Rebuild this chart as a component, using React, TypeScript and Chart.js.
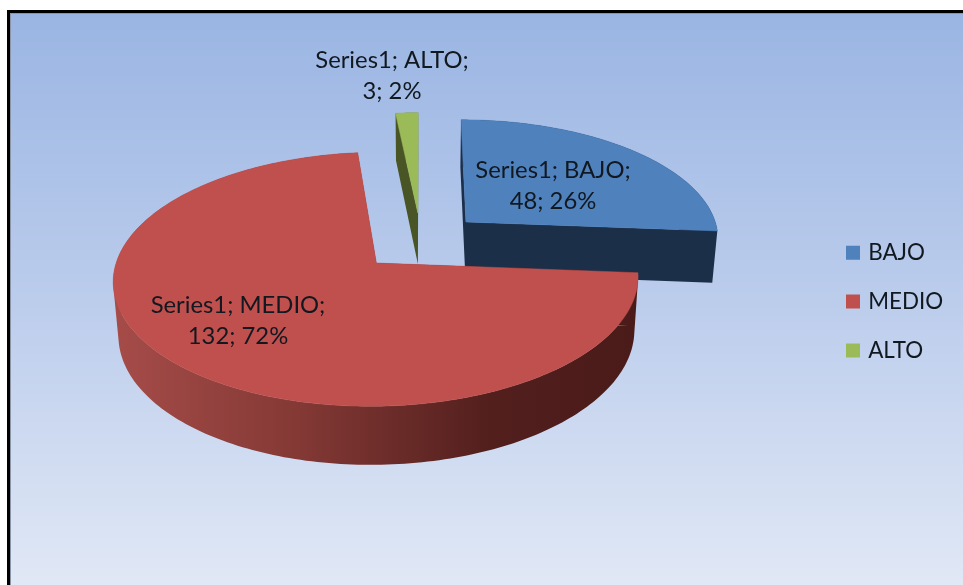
import { useEffect, useRef } from "react";
import { Chart, registerables } from "chart.js";

Chart.register(...registerables);

const seriesName = "Series1";
const categories = ["BAJO", "MEDIO", "ALTO"];
const values = [48, 132, 3];
const sliceColors = ["#4f81bd", "#c0504d", "#9bbb59"];
const wallColors = ["#1c2f49", "#4e1c1a", "#4a5526"];

// layout of the perspective view
const CX = 421, CY = 241.5, RX = 254.5, RY = 119.5, K = 0.125;
const BOTTOM_CY = 293.7, BOTTOM_FX = 0.983, BOTTOM_FY = 1.039;
const EXPLODE_PX = 64;
const FONT = "Lato, 'Open Sans', sans-serif";
const LABEL_SIZE = 23.8;
const LABEL_CENTERS = [[553, 186], [238, 321], [392, 76]];
const LABEL_LINE = 31.5;

type P = { x: number; y: number };

function project(u: number, v: number, bottom: boolean): P {
  const s = 1 / (1 - K * v);
  return bottom
    ? { x: CX + BOTTOM_FX * RX * u * s, y: BOTTOM_CY + BOTTOM_FY * RY * v * s }
    : { x: CX + RX * u * s, y: CY + RY * v * s };
}

function addPoly(ctx: CanvasRenderingContext2D, input: P[]) {
  // every polygon gets the same winding, so overlapping ones add up in one fill
  let area = 0;
  input.forEach((p, i) => {
    const q = input[(i + 1) % input.length];
    area += p.x * q.y - q.x * p.y;
  });
  const pts = area < 0 ? input.slice().reverse() : input;
  pts.forEach((p, i) => (i ? ctx.lineTo(p.x, p.y) : ctx.moveTo(p.x, p.y)));
  ctx.closePath();
}

function poly(ctx: CanvasRenderingContext2D, pts: P[], fill: any) {
  ctx.beginPath();
  addPoly(ctx, pts);
  ctx.fillStyle = fill;
  ctx.fill();
  ctx.strokeStyle = fill;
  ctx.lineWidth = 0.5;
  ctx.stroke();
}

const framePlugin = {
  id: "frame",
  beforeDraw(chart: any) {
    const { ctx, width, height } = chart;
    ctx.save();
    ctx.fillStyle = "#ffffff";
    ctx.fillRect(0, 0, width, height);
    const g = ctx.createLinearGradient(0, 12, 0, height + 10);
    g.addColorStop(0, "#9ab5e3");
    g.addColorStop(0.5, "#bccdec");
    g.addColorStop(1, "#e2e9f6");
    ctx.fillStyle = g;
    ctx.fillRect(10, 13, width - 10, height - 13);
    ctx.fillStyle = "#8b95a8";
    ctx.fillRect(9, 12, 2, height - 12);
    ctx.fillRect(9, 12, width - 9, 2);
    ctx.fillStyle = "#000000";
    ctx.fillRect(7, 10, 3, height - 10);
    ctx.fillRect(7, 10, width - 7, 3);
    ctx.restore();
  },
};

const legendPlacePlugin = {
  id: "legendPlace",
  afterLayout(chart: any) {
    const l = chart.legend;
    const w = l.width, h = l.height;
    l.left = 849 - l.options.labels.padding;
    l.right = l.left + w;
    l.top = 241.5 - l.options.labels.padding;
    l.bottom = l.top + h;
  },
};

const pie3dPlugin = {
  id: "pie3d",
  beforeDatasetDraw(chart: any, args: any) {
    const { ctx } = chart;
    const arcs: any[] = args.meta.data;
    const items = arcs.map((arc: any, i: number) => {
      const R = arc.outerRadius;
      const mid = (arc.startAngle + arc.endAngle) / 2;
      const e = arc.options.offset / R;
      return { arc, i, mid, u0: Math.cos(mid) * e, v0: Math.sin(mid) * e };
    });
    items.sort((a, b) => a.v0 - b.v0);
    ctx.save();
    for (const it of items) {
      const { arc, i, u0, v0 } = it;
      const steps = Math.max(4, Math.ceil((arc.endAngle - arc.startAngle) / 0.02));
      const unit: [number, number][] = [];
      for (let s = 0; s <= steps; s++) {
        const a = arc.startAngle + ((arc.endAngle - arc.startAngle) * s) / steps;
        unit.push([u0 + Math.cos(a), v0 + Math.sin(a)]);
      }
      const top = unit.map(([u, v]) => project(u, v, false));
      const bot = unit.map(([u, v]) => project(u, v, true));
      const cTop = project(u0, v0, false);
      const cBot = project(u0, v0, true);
      let wall: any = wallColors[i];
      if (i === 1) {
        const g = ctx.createLinearGradient(113, 0, 638, 0);
        g.addColorStop(0, "#a64c49");
        g.addColorStop(0.35, "#843935");
        g.addColorStop(0.72, "#521f1d");
        g.addColorStop(1, "#4a1b19");
        wall = g;
      }
      // radial walls and outer wall, all in one path so no seams show
      ctx.beginPath();
      addPoly(ctx, [cTop, top[0], bot[0], cBot]);
      addPoly(ctx, [cTop, top[steps], bot[steps], cBot]);
      for (let s = 0; s < steps; s++) {
        addPoly(ctx, [top[s], top[s + 1], bot[s + 1], bot[s]]);
      }
      ctx.fillStyle = wall;
      ctx.fill();
      // top face
      poly(ctx, [cTop, ...top], sliceColors[i]);
    }
    ctx.restore();
    return false;
  },
  afterDatasetsDraw(chart: any) {
    const { ctx } = chart;
    const ds = chart.data.datasets[0];
    const total = ds.data.reduce((a: number, b: number) => a + b, 0);
    ctx.save();
    ctx.font = `${LABEL_SIZE}px ${FONT}`;
    ctx.fillStyle = "#111820";
    ctx.textAlign = "center";
    ctx.textBaseline = "middle";
    ds.data.forEach((val: number, i: number) => {
      const [x, y] = LABEL_CENTERS[i];
      const pct = Math.round((val / total) * 100);
      ctx.fillText(`${ds.label}; ${chart.data.labels[i]};`, x, y - LABEL_LINE / 2);
      ctx.fillText(`${val}; ${pct}%`, x, y + LABEL_LINE / 2);
    });
    ctx.restore();
  },
};

export default function App() {
  const ref = useRef<HTMLCanvasElement>(null);
  useEffect(() => {
    const chart = new Chart(ref.current as HTMLCanvasElement, {
      type: "pie",
      data: {
        labels: categories,
        datasets: [
          {
            label: seriesName,
            data: values,
            backgroundColor: sliceColors,
            borderWidth: 0,
            offset: EXPLODE_PX,
          },
        ],
      },
      options: {
        responsive: false,
        animation: false,
        plugins: {
          tooltip: { enabled: false },
          legend: {
            position: "right",
            align: "start",
            labels: {
              boxWidth: 8,
              boxHeight: 8,
              padding: 26.5,
              color: "#111820",
              font: { family: FONT, size: 22.4 },
              generateLabels(c: any) {
                const items = (Chart as any).overrides.doughnut.plugins.legend.labels.generateLabels(c);
                return items.map((it: any) => ({ ...it, strokeStyle: it.fillStyle, lineWidth: 6, fontColor: "#111820" }));
              },
            },
          },
        },
      },
      plugins: [framePlugin, legendPlacePlugin, pie3dPlugin],
    } as any);
    return () => chart.destroy();
  }, []);
  return (
    <div style={{ position: "absolute", left: 0, top: 0, width: 963, height: 585, overflow: "hidden" }}>
      <canvas ref={ref} width={963} height={585} style={{ display: "block" }} />
    </div>
  );
}
